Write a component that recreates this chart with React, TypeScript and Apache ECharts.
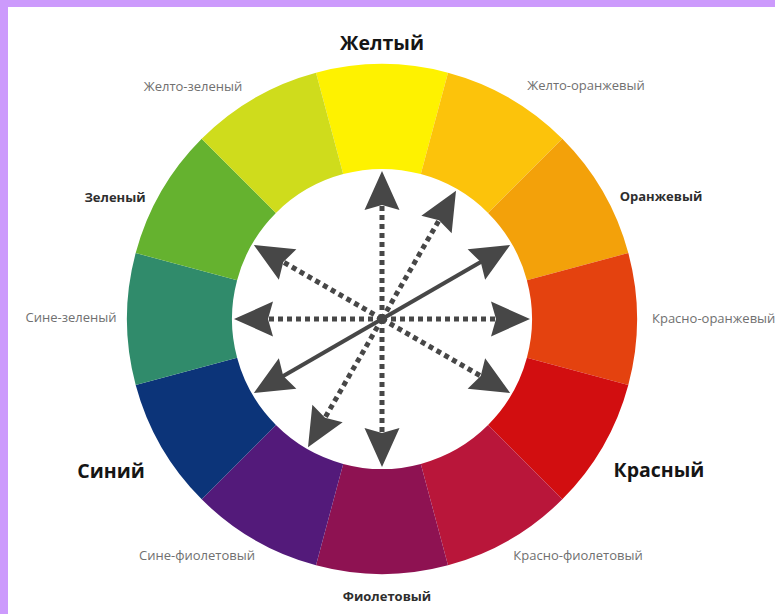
import React, { useEffect, useRef } from "react";
import * as echarts from "echarts";

// Color wheel sectors, clockwise from the top
const categories = [
  "Желтый",
  "Желто-оранжевый",
  "Оранжевый",
  "Красно-оранжевый",
  "Красный",
  "Красно-фиолетовый",
  "Фиолетовый",
  "Сине-фиолетовый",
  "Синий",
  "Сине-зеленый",
  "Зеленый",
  "Желто-зеленый",
];
const shares = [1, 1, 1, 1, 1, 1, 1, 1, 1, 1, 1, 1];
const colors = [
  "#fef200",
  "#fcc30b",
  "#f3a10a",
  "#e4420f",
  "#d20e10",
  "#b9163a",
  "#8e1252",
  "#531a7a",
  "#0c3479",
  "#308b6b",
  "#65b22f",
  "#cfdc1c",
];
// label anchor points (layout only)
const labelX = [382, 586, 661, 652, 659, 578, 387, 197, 111, 71, 115, 193];
const labelY = [42, 85, 196, 318, 469, 555, 596, 555, 470, 317, 197, 86];

// arrows in the centre (degrees, counter-clockwise from east)
const dottedAngles = [0, 60, 90, 150, 180, 240, 270, 330];
const solidAngles = [30, 210];

const CX = 382;
const CY = 319;
const FONT = "'Open Sans', 'Noto Sans', sans-serif";

function pt(r: number, deg: number): [number, number] {
  const a = (deg * Math.PI) / 180;
  return [CX + r * Math.cos(a), CY - r * Math.sin(a)];
}

const TIP = 148;
const HEAD_LEN = 39;
const HEAD_HALF = 17.5;
const ARROW_COLOR = "#474747";

function arrowHead(deg: number) {
  const tip = pt(TIP, deg);
  const base = pt(TIP - HEAD_LEN, deg);
  const notch = pt(TIP - HEAD_LEN + 5, deg);
  const a = (deg * Math.PI) / 180;
  const nx = -Math.sin(a);
  const ny = -Math.cos(a);
  return {
    type: "polygon",
    shape: {
      points: [
        tip,
        [base[0] + HEAD_HALF * nx, base[1] + HEAD_HALF * ny],
        notch,
        [base[0] - HEAD_HALF * nx, base[1] - HEAD_HALF * ny],
      ],
    },
    style: { fill: ARROW_COLOR },
    z: 10,
  };
}

function labelStyle(i: number) {
  const tier = i % 4;
  if (tier === 0) {
    return { fontSize: 19.5, fontWeight: "bold", color: "#151515" };
  }
  if (tier === 2) {
    return { fontSize: 13, fontWeight: "bold", color: "#2e2e2e" };
  }
  return { fontSize: 13, fontWeight: "normal", color: "#707070" };
}

export default function App() {
  const ref = useRef<HTMLDivElement>(null);

  useEffect(() => {
    if (!ref.current) return;
    const chart = echarts.init(ref.current, undefined, { renderer: "svg" });

    const graphics: any[] = [
      { type: "rect", shape: { x: 0, y: 0, width: 775, height: 7 }, style: { fill: "#cc9afc" } },
      { type: "rect", shape: { x: 0, y: 0, width: 8, height: 614 }, style: { fill: "#cc9afc" } },
    ];
    dottedAngles.forEach((d) => {
      const end = pt(TIP - HEAD_LEN + 6, d);
      graphics.push({
        type: "line",
        shape: { x1: CX, y1: CY, x2: end[0], y2: end[1] },
        style: { stroke: ARROW_COLOR, lineWidth: 5, lineDash: [5, 4] },
        z: 9,
      });
      graphics.push(arrowHead(d));
    });
    const s0 = pt(TIP - HEAD_LEN + 6, solidAngles[0]);
    const s1 = pt(TIP - HEAD_LEN + 6, solidAngles[1]);
    graphics.push({
      type: "line",
      shape: { x1: s1[0], y1: s1[1], x2: s0[0], y2: s0[1] },
      style: { stroke: ARROW_COLOR, lineWidth: 4 },
      z: 9,
    });
    solidAngles.forEach((d) => graphics.push(arrowHead(d)));

    chart.setOption({
      animation: false,
      backgroundColor: "#ffffff",
      graphic: graphics,
      series: [
        {
          type: "pie",
          center: [CX, CY],
          radius: [150, 255],
          startAngle: 105,
          clockwise: true,
          silent: true,
          avoidLabelOverlap: false,
          itemStyle: { borderWidth: 0 },
          labelLine: { show: false },
          label: {
            show: true,
            position: "outside",
            formatter: "{b}",
            fontFamily: FONT,
          },
          labelLayout: (p: any) => ({
            x: labelX[p.dataIndex],
            y: labelY[p.dataIndex],
            align: p.dataIndex === 3 ? "left" : "center",
            verticalAlign: "middle",
          }),
          data: categories.map((name, i) => ({
            name,
            value: shares[i],
            itemStyle: { color: colors[i] },
            label: labelStyle(i),
          })),
        },
      ],
    });

    return () => chart.dispose();
  }, []);

  return (
    <div
      ref={ref}
      style={{ position: "fixed", left: 0, top: 0, width: 775, height: 614 }}
    />
  );
}
